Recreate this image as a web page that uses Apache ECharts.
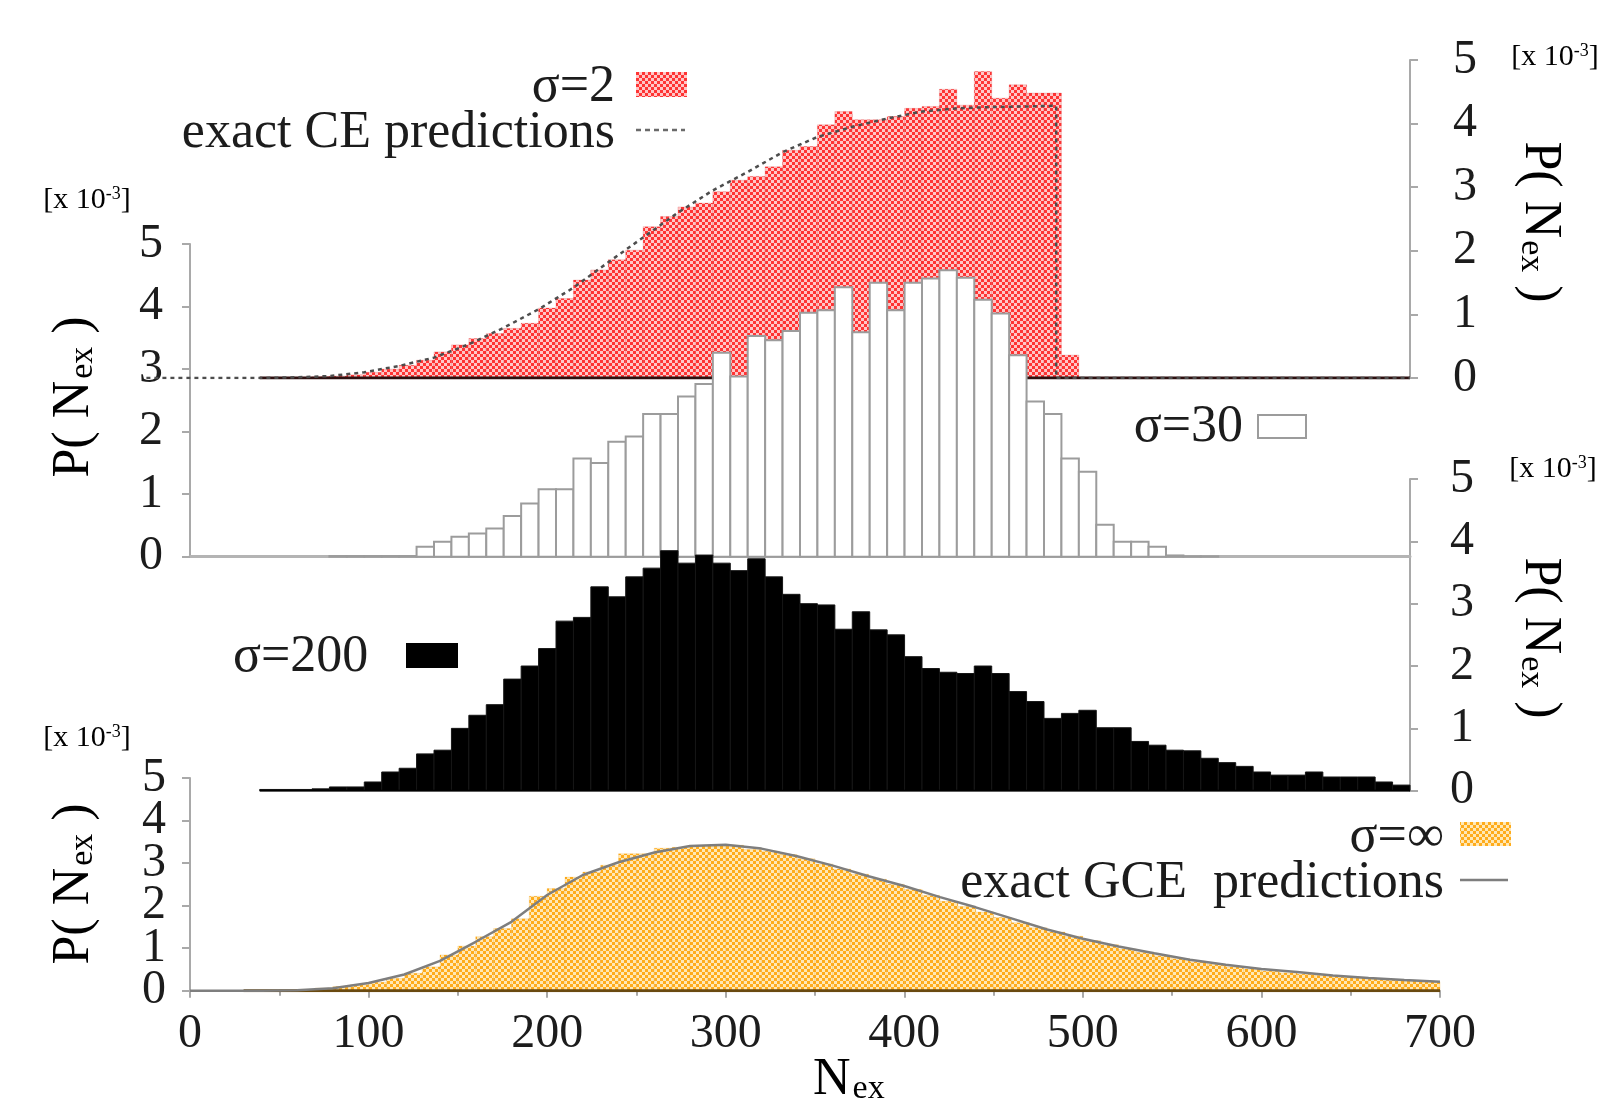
<!DOCTYPE html>
<html>
<head>
<meta charset="utf-8">
<script src="https://cdn.jsdelivr.net/npm/echarts@6/dist/echarts.min.js"></script>
<style>
  html, body { margin: 0; padding: 0; background: #fff; }
  #chart { width: 1615px; height: 1107px; }
</style>
</head>
<body>
<div id="chart"></div>
<script>
// Histogram bin width in N_ex
const BIN = 10;

// sigma = 2, bin centres and P(N_ex) in units of 1e-3
const redN = [45,55,65,75,85,95,105,115,125,135,145,155,165,175,185,195,205,215,225,235,245,255,265,275,285,295,305,315,325,335,345,355,365,375,385,395,405,415,425,435,445,455,465,475,485,495,505,515,525,535,545,555,565,575,585,595,605,615,625,635,645,655,665,675,685,695];
const redP = [0.005,0.01,0.01,0.02,0.03,0.05,0.09,0.14,0.20,0.28,0.41,0.52,0.62,0.70,0.78,0.86,1.10,1.25,1.54,1.70,1.86,2.01,2.38,2.54,2.69,2.75,2.93,3.11,3.17,3.32,3.58,3.64,3.98,4.19,4.06,4.06,4.11,4.24,4.27,4.54,4.29,4.82,4.40,4.61,4.48,4.48,0.36,0,0,0,0,0,0,0,0,0,0,0,0,0,0,0,0,0,0,0];

// exact CE prediction
const ceN = [-25,40,60,80,100,120,140,160,180,200,220,240,260,280,300,320,340,360,380,400,420,440,460,480,497,497,700];
const ceP = [0,0,0.01,0.03,0.09,0.19,0.32,0.53,0.79,1.08,1.42,1.82,2.21,2.60,2.95,3.24,3.55,3.79,3.95,4.08,4.19,4.24,4.26,4.27,4.28,0,0];

// sigma = 30
const whiteN = [85,95,105,115,125,135,145,155,165,175,185,195,205,215,225,235,245,255,265,275,285,295,305,315,325,335,345,355,365,375,385,395,405,415,425,435,445,455,465,475,485,495,505,515,525,535,545,555,565,575,585];
const whiteP = [0.01,0.01,0.01,0.01,0.01,0.16,0.24,0.32,0.37,0.45,0.65,0.85,1.08,1.08,1.57,1.50,1.84,1.92,2.28,2.28,2.56,2.76,3.26,2.88,3.53,3.46,3.61,3.90,3.94,4.31,3.59,4.38,3.94,4.38,4.45,4.58,4.46,4.11,3.89,3.22,2.48,2.28,1.57,1.36,0.51,0.24,0.24,0.16,0.02,0.005,0.005];

// sigma = 200
const blackN = [45,55,65,75,85,95,105,115,125,135,145,155,165,175,185,195,205,215,225,235,245,255,265,275,285,295,305,315,325,335,345,355,365,375,385,395,405,415,425,435,445,455,465,475,485,495,505,515,525,535,545,555,565,575,585,595,605,615,625,635,645,655,665,675,685,695];
const blackP = [0.02,0.02,0.02,0.03,0.06,0.06,0.14,0.30,0.36,0.59,0.65,1.00,1.21,1.38,1.79,2.00,2.28,2.72,2.78,3.27,3.11,3.43,3.57,3.85,3.65,3.78,3.65,3.53,3.72,3.43,3.15,3.00,2.98,2.59,2.87,2.58,2.50,2.15,1.96,1.90,1.88,2.00,1.88,1.59,1.43,1.16,1.24,1.29,1.01,1.01,0.79,0.73,0.65,0.64,0.52,0.45,0.39,0.30,0.25,0.25,0.30,0.22,0.22,0.22,0.14,0.09];

// sigma = infinity (grand canonical)
const orangeN = [5,15,25,35,45,55,65,75,85,95,105,115,125,135,145,155,165,175,185,195,205,215,225,235,245,255,265,275,285,295,305,315,325,335,345,355,365,375,385,395,405,415,425,435,445,455,465,475,485,495,505,515,525,535,545,555,565,575,585,595,605,615,625,635,645,655,665,675,685,695];
const orangeP = [0,0,0,0.005,0.01,0.02,0.03,0.06,0.10,0.14,0.20,0.29,0.41,0.56,0.84,1.05,1.27,1.46,1.69,2.22,2.40,2.67,2.79,2.95,3.22,3.22,3.35,3.37,3.40,3.40,3.42,3.32,3.28,3.20,3.10,2.98,2.86,2.74,2.62,2.50,2.38,2.24,2.10,1.98,1.85,1.72,1.60,1.48,1.38,1.28,1.18,1.08,0.98,0.90,0.82,0.75,0.68,0.62,0.56,0.51,0.46,0.42,0.39,0.36,0.33,0.30,0.28,0.26,0.23,0.21];

// exact GCE prediction
const gceN = [0,40,60,80,100,120,140,160,180,200,220,240,260,280,300,320,340,360,380,400,420,440,460,480,500,520,540,560,580,600,620,640,660,680,700];
const gceP = [0,0,0.01,0.06,0.18,0.38,0.70,1.15,1.62,2.25,2.72,3.02,3.25,3.40,3.43,3.34,3.16,2.94,2.69,2.46,2.20,1.96,1.70,1.44,1.22,1.04,0.88,0.73,0.61,0.51,0.44,0.36,0.30,0.25,0.21];

const yTicks = [0, 1, 2, 3, 4, 5];

const FONT = '"Liberation Serif", "Times New Roman", serif';
const AXIS_GREY = '#a9a9a9';
const TEXT = '#1c1c1c';

// checkered fill used by the hatched histograms
function checker(c1, c2, cell) {
  const cv = document.createElement('canvas');
  cv.width = cv.height = cell * 2;
  const g = cv.getContext('2d');
  g.fillStyle = c2; g.fillRect(0, 0, cell * 2, cell * 2);
  g.fillStyle = c1; g.fillRect(0, 0, cell, cell); g.fillRect(cell, cell, cell, cell);
  return { image: cv, repeat: 'repeat' };
}
const redFill = checker('#ff3434', '#ffc6c6', 3);
const orangeFill = checker('#ffac1c', '#ffe8b6', 3);

const zip = (xs, ys) => xs.map((x, i) => [x, ys[i]]);

// histogram drawn as adjoining rectangles through the axis scales
function histogram(idx, xs, ys, style, z) {
  return {
    type: 'custom', xAxisIndex: idx, yAxisIndex: idx, z: z, clip: false,
    data: zip(xs, ys),
    encode: { x: 0, y: 1 },
    renderItem: function (params, api) {
      const x = api.value(0), y = api.value(1);
      const p0 = api.coord([x - BIN / 2, 0]);
      const p1 = api.coord([x + BIN / 2, y]);
      return {
        type: 'rect',
        shape: { x: p0[0], y: p1[1], width: p1[0] - p0[0], height: p0[1] - p1[1] },
        style: style
      };
    }
  };
}

// baseline underneath a histogram, from its first non-empty bin edge to its last bin edge
function baseline(idx, xs, ys, color, width, z) {
  const nz = xs.filter((x, i) => ys[i] > 0);
  return {
    type: 'line', xAxisIndex: idx, yAxisIndex: idx, z: z, symbol: 'none', silent: true,
    data: [[nz[0] - BIN / 2, 0], [xs[xs.length - 1] + BIN / 2, 0]],
    lineStyle: { color: color, width: width }
  };
}

function yAxis(idx, pos, margin, formatter, bare) {
  return {
    type: 'value', gridIndex: idx, position: pos, min: yTicks[0], max: yTicks[yTicks.length - 1], interval: 1,
    axisLine: { show: !bare, onZero: false, lineStyle: { color: AXIS_GREY, width: 2 } },
    axisTick: { show: !bare, inside: false, length: 8, lineStyle: { color: AXIS_GREY, width: 2 } },
    axisLabel: { margin: margin, fontFamily: FONT, fontSize: 48, color: TEXT,
                 showMinLabel: true, showMaxLabel: true, hideOverlap: false,
                 formatter: formatter || '{value}' },
    splitLine: { show: false }
  };
}

const hiddenX = (idx, min) => ({ type: 'value', gridIndex: idx, min: min, max: 700, show: false });

const richP = {
  a: { fontFamily: FONT, fontSize: 52, color: TEXT },
  s: { fontFamily: FONT, fontSize: 34, color: '#555', verticalAlign: 'bottom', padding: [14, 0, 0, 2] }
};
const richScale = {
  a: { fontFamily: FONT, fontSize: 30, color: '#8a8a8a' },
  s: { fontFamily: FONT, fontSize: 18, color: '#8a8a8a', verticalAlign: 'top', padding: [0, 0, 12, 0] }
};

function label(x, y, rot) {
  return { type: 'text', x: x, y: y, rotation: rot, z: 10,
    style: { text: '{a|P( N}{s|ex}{a| )}', rich: richP, align: 'center', verticalAlign: 'middle',
             textAlign: 'center', textVerticalAlign: 'middle' } };
}
function scaleNote(x, y) {
  return { type: 'text', x: x, y: y, z: 10,
    style: { text: '{a|[x 10}{s|-3}{a|]}', rich: richScale, align: 'center', verticalAlign: 'middle',
             textAlign: 'center', textVerticalAlign: 'middle' } };
}
function legendText(txt, x, y, align) {
  return { type: 'text', x: x, y: y, z: 10,
    style: { text: txt, font: '52px ' + FONT, fill: TEXT, align: align, verticalAlign: 'middle',
             textAlign: align, textVerticalAlign: 'middle' } };
}
function legendBox(x, y, w, h, fill, stroke) {
  return { type: 'rect', z: 10, shape: { x: x, y: y, width: w, height: h },
    style: { fill: fill, stroke: stroke || null, lineWidth: stroke ? 2 : 0 } };
}
function legendLine(x1, x2, y, color, dash) {
  return { type: 'line', z: 10, shape: { x1: x1, y1: y, x2: x2, y2: y },
    style: { stroke: color, lineWidth: 2.5, lineDash: dash || null } };
}

// the bottom panel is short, so its tick labels are split over two stacked axes
const evenOnly = v => (v % 2 === 0 ? String(v) : '');
const oddOnly = v => (v % 2 === 1 ? String(v) : '');

const option = {
  animation: false,
  backgroundColor: '#ffffff',
  grid: [
    { left: 146.4, right: 205, top: 60, height: 318 },
    { left: 190, right: 205, top: 244, height: 312.7 },
    { left: 190, right: 205, top: 479, height: 311.7 },
    { left: 190, right: 175, top: 778, height: 212.7 }
  ],
  xAxis: [
    hiddenX(0, -25),
    { type: 'value', gridIndex: 1, min: 0, max: 700,
      axisLine: { show: true, onZero: false, lineStyle: { color: '#b4b4b4', width: 3 } },
      axisTick: { show: false }, axisLabel: { show: false }, splitLine: { show: false } },
    hiddenX(2, 0),
    { type: 'value', gridIndex: 3, min: 0, max: 700, interval: 100,
      axisLine: { show: true, onZero: false, lineStyle: { color: AXIS_GREY, width: 2 } },
      axisTick: { show: true, length: 7, lineStyle: { color: AXIS_GREY, width: 2 } },
      minorTick: { show: true, splitNumber: 2, length: 5, lineStyle: { color: AXIS_GREY, width: 2 } },
      axisLabel: { margin: 20, fontFamily: FONT, fontSize: 48, color: TEXT,
                   showMinLabel: true, showMaxLabel: true },
      splitLine: { show: false } }
  ],
  yAxis: [
    yAxis(0, 'right', 43),
    yAxis(1, 'left', 27),
    yAxis(2, 'right', 40),
    yAxis(3, 'left', 24, evenOnly),
    yAxis(3, 'left', 24, oddOnly, true)
  ],
  series: [
    // sigma = 2 with CE prediction
    histogram(0, redN, redP, { fill: redFill, stroke: 'rgba(200,40,40,0.3)', lineWidth: 0.6 }, 1),
    baseline(0, redN, redP, '#2e1010', 3, 2),
    { type: 'line', xAxisIndex: 0, yAxisIndex: 0, z: 2, symbol: 'none', data: zip(ceN, ceP),
      lineStyle: { color: '#4d4d4d', width: 2.5, type: [4, 4] } },
    // sigma = 30
    histogram(1, whiteN, whiteP, { fill: '#ffffff', stroke: '#9c9c9c', lineWidth: 2 }, 3),
    // sigma = 200
    histogram(2, blackN, blackP, { fill: '#000000', stroke: '#161616', lineWidth: 1 }, 4),
    baseline(2, blackN, blackP, '#000000', 2, 4),
    // sigma = infinity with GCE prediction
    histogram(3, orangeN, orangeP, { fill: orangeFill, stroke: 'rgba(225,150,0,0.3)', lineWidth: 0.6 }, 1),
    baseline(3, orangeN, orangeP, '#6a4a10', 3, 2),
    { type: 'line', xAxisIndex: 3, yAxisIndex: 3, z: 2, symbol: 'none', data: zip(gceN, gceP),
      lineStyle: { color: '#7e7e7e', width: 2.5 } }
  ],
  graphic: { elements: [
    scaleNote(87, 200), scaleNote(87, 738), scaleNote(1555, 57), scaleNote(1553, 469),
    label(74, 397, Math.PI / 2), label(74, 884, Math.PI / 2),
    label(1540, 222, -Math.PI / 2), label(1540, 638, -Math.PI / 2),
    { type: 'text', x: 813, y: 1080, z: 10,
      style: { text: '{a|N}{s|ex}', rich: richP, align: 'left', verticalAlign: 'middle',
               textAlign: 'left', textVerticalAlign: 'middle' } },
    legendText('σ=2', 615, 87, 'right'),
    legendBox(636, 72, 51, 25, redFill),
    legendText('exact CE predictions', 615, 133, 'right'),
    legendLine(636, 685, 130, '#6a6a6a', [5, 4]),
    legendText('σ=30', 1243, 427, 'right'),
    legendBox(1258, 415, 48, 23, '#ffffff', '#9c9c9c'),
    legendText('σ=200', 233, 657, 'left'),
    legendBox(406, 643, 52, 25, '#000000'),
    legendText('σ=∞', 1444, 837, 'right'),
    legendBox(1460, 822, 51, 24, orangeFill),
    legendText('exact GCE  predictions', 1444, 883, 'right'),
    legendLine(1460, 1508, 880, '#7e7e7e')
  ] }
};

const chart = echarts.init(document.getElementById('chart'), null, { renderer: 'canvas' });
chart.setOption(option);
</script>
</body>
</html>
